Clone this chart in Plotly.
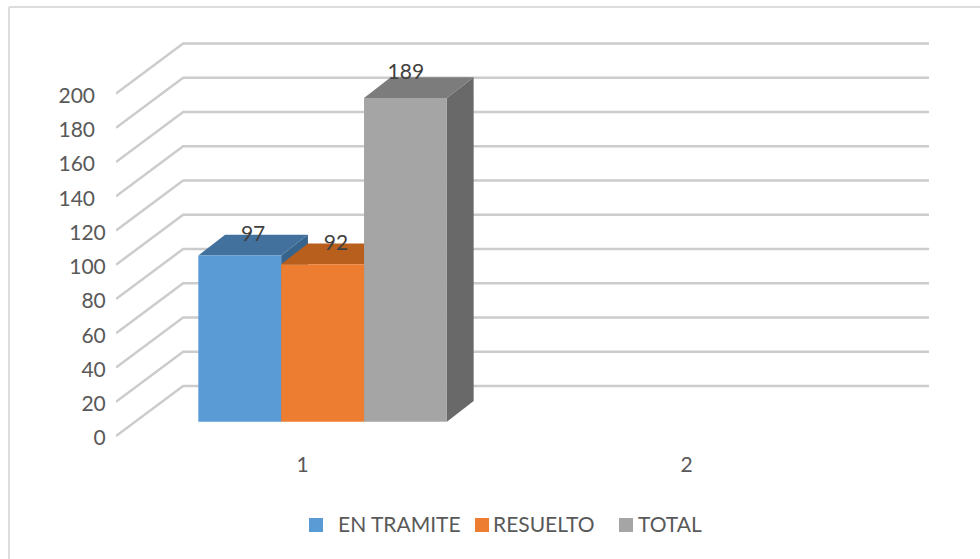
import plotly.graph_objects as go

categories = [1, 2]
category_ticks = [1, 2.03]
series_names = ["EN TRAMITE", "RESUELTO", "TOTAL"]
en_tramite = [97, None]
resuelto = [92, None]
total = [189, None]
y_ticks = [0, 20, 40, 60, 80, 100, 120, 140, 160, 180, 200]

# front, top and side colours of each series
front_colors = ["#5B9BD5", "#ED7D31", "#A5A5A5"]
top_colors = ["#41719C", "#B85F1E", "#7C7C7C"]
side_colors = ["#37648C", "#9E5119", "#696969"]

# page layout in pixels
W, H = 980, 559
LEFT, RIGHT, TOP, BOTTOM = 116, 929, 20, 450
ZERO_PX = 436
PX_PER_UNIT = 1.7125

# oblique projection, in axis units
WALL_DX = 0.18
WALL_DY = 29.2
FLOOR_DX = 0.054
FLOOR_DY = 8.35
BAR_DX = 0.0717
BAR_DY = 12.1
BAR_W = 0.2222

# data labels were hand placed in the original
label_nudge_x = [0, 0, -0.035]
label_nudge_y = [11.8, 11.3, 14]
tick_nudge = 1.2

grid_color = "#CCCCCC"
text_color = "#595959"
label_color = "#404040"
font_family = "Lato, Open Sans, sans-serif"
font_size = 21


def paper_x(px):
    return (px - LEFT) / (RIGHT - LEFT)


def paper_y(py):
    return (BOTTOM - py) / (BOTTOM - TOP)


fig = go.Figure()

# wall gridlines with their oblique part on the side wall
grid_x, grid_y = [], []
for v in y_ticks:
    grid_x += [0.5, 0.5 + WALL_DX, 2.5 + WALL_DX, None]
    grid_y += [v, v + WALL_DY, v + WALL_DY, None]
fig.add_trace(go.Scatter(
    x=grid_x, y=grid_y, mode="lines",
    line=dict(color=grid_color, width=2.5),
    showlegend=False, hoverinfo="skip", zorder=0
))

all_series = [en_tramite, resuelto, total]
label_x, label_y, label_text = [], [], []
for i, values in enumerate(all_series):
    z = 1 + i * 3
    for cat, v in zip(categories, values):
        if v is None:
            continue
        center = cat + FLOOR_DX + (i - 1) * BAR_W
        x0, x1 = center - BAR_W / 2, center + BAR_W / 2
        low, high = FLOOR_DY, FLOOR_DY + v

        # side face
        fig.add_trace(go.Scatter(
            x=[x1, x1 + BAR_DX, x1 + BAR_DX, x1, x1],
            y=[low, low + BAR_DY, high + BAR_DY, high, low],
            mode="none", fill="toself", fillcolor=side_colors[i],
            showlegend=False, hoverinfo="skip", zorder=z
        ))
        # top face
        fig.add_trace(go.Scatter(
            x=[x0, x0 + BAR_DX, x1 + BAR_DX, x1, x0],
            y=[high, high + BAR_DY, high + BAR_DY, high, high],
            mode="none", fill="toself", fillcolor=top_colors[i],
            showlegend=False, hoverinfo="skip", zorder=z
        ))
        # front face
        fig.add_trace(go.Bar(
            x=[center], y=[v], base=[low], width=[BAR_W],
            name=series_names[i],
            marker=dict(color=front_colors[i], line=dict(width=0)),
            showlegend=False, zorder=z + 1
        ))

        label_x.append(center + BAR_DX / 2 + label_nudge_x[i])
        label_y.append(high + label_nudge_y[i])
        label_text.append(str(v))

# data labels
fig.add_trace(go.Scatter(
    x=label_x, y=label_y, text=label_text, mode="text",
    textposition="middle center",
    textfont=dict(family=font_family, size=font_size, color=label_color),
    showlegend=False, hoverinfo="skip", zorder=20
))

# chart border (left and top only show in the picture)
border = dict(color="#DDDDDD", width=2)
shapes = [
    dict(type="line", xref="paper", yref="paper", line=border,
         x0=paper_x(9), x1=paper_x(9), y0=paper_y(7), y1=paper_y(H)),
    dict(type="line", xref="paper", yref="paper", line=border,
         x0=paper_x(9), x1=paper_x(W), y0=paper_y(7), y1=paper_y(7)),
]

# legend drawn by hand, swatches are not evenly spaced in the original
legend_swatch_px = [309, 475, 619]
legend_text_px = [339, 494, 639]
annotations = []
for i, name in enumerate(series_names):
    shapes.append(dict(
        type="rect", xref="paper", yref="paper",
        x0=paper_x(legend_swatch_px[i]), x1=paper_x(legend_swatch_px[i] + 14),
        y0=paper_y(532), y1=paper_y(518),
        fillcolor=front_colors[i], line=dict(width=0)
    ))
    annotations.append(dict(
        text=name, xref="paper", yref="paper", showarrow=False,
        x=paper_x(legend_text_px[i]), y=paper_y(523),
        xanchor="left", yanchor="middle", xshift=-3,
        font=dict(family=font_family, size=font_size, color=text_color)
    ))

# the upper four labels sit further left in the original
y_labels = [str(v) + ("\u00a0\u00a0" if v >= 140 else "") for v in y_ticks]

fig.update_layout(
    width=W, height=H,
    margin=dict(l=LEFT, r=W - RIGHT, t=TOP, b=H - BOTTOM, pad=0),
    paper_bgcolor="white", plot_bgcolor="white",
    barmode="overlay",
    font=dict(family=font_family, size=font_size, color=text_color),
    xaxis=dict(
        range=[0.5, 2.5 + WALL_DX],
        tickvals=category_ticks, ticktext=[str(c) for c in categories],
        showgrid=False, zeroline=False, showline=False,
        ticks=""
    ),
    yaxis=dict(
        range=[(ZERO_PX - BOTTOM) / PX_PER_UNIT, (ZERO_PX - TOP) / PX_PER_UNIT],
        tickvals=[v - tick_nudge for v in y_ticks], ticktext=y_labels,
        showgrid=False, zeroline=False, showline=False,
        ticks="outside", ticklen=5, tickcolor="white"
    ),
    shapes=shapes,
    annotations=annotations,
    showlegend=False
)

# the page's default body margin would push everything 8px down and right
fig.write_html(
    "out.html",
    config={"displayModeBar": False},
    post_script="document.body.style.margin = '0';"
)
